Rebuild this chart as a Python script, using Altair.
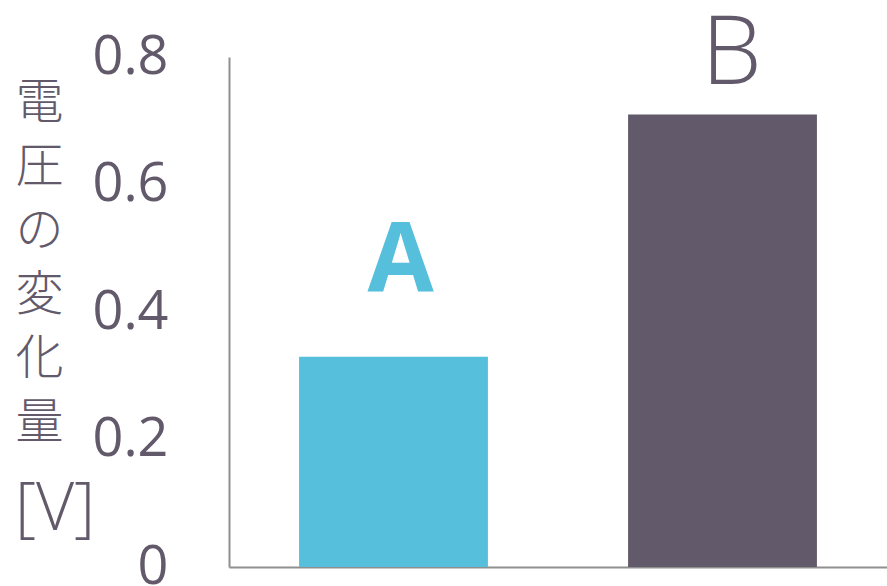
import altair as alt
import pandas as pd

categories = ["A", "B"]
values = [0.33, 0.71]
colors = ["#56bfdc", "#625a6a"]
y_ticks = [0, 0.2, 0.4, 0.6, 0.8]
title_lines = ["電", "圧", "の", "変", "化", "量"]
unit_label = "[V]"

df = pd.DataFrame({"cat": categories, "val": values})

FONT = "Open Sans"
LABEL_COLOR = "#625a6a"
AXIS_COLOR = "#8f8f8f"

x_enc = alt.X("cat:N", sort=categories,
              scale=alt.Scale(paddingInner=0.426, paddingOuter=0.213),
              axis=alt.Axis(title=None, labels=False, ticks=False, domain=True,
                            domainColor=AXIS_COLOR, domainWidth=2, grid=False))
y_enc = alt.Y("val:Q", scale=alt.Scale(domain=[0, 0.8], nice=False),
              axis=alt.Axis(values=y_ticks, format="~g", ticks=False, grid=False,
                            domainColor=AXIS_COLOR, domainWidth=2,
                            labelFont=FONT, labelFontSize=54, labelColor=LABEL_COLOR,
                            labelPadding=61, labelBaseline="middle", labelFlush=False,
                            labelOverlap=False,
                            title=title_lines, titleAngle=0, titleFont="Noto Sans CJK JP",
                            titleFontWeight=300, titleFontSize=48, titleColor="#625a6a",
                            titleLineHeight=64, titleAlign="center", titleBaseline="middle",
                            titleX=-190, titleY=46))

base = alt.Chart(df)

bars = base.mark_bar().encode(
    x=x_enc, y=y_enc,
    color=alt.Color("cat:N", scale=alt.Scale(domain=categories, range=colors), legend=None),
)

label_a = base.transform_filter(alt.datum.cat == "A").mark_text(
    font=FONT, fontSize=96, fontWeight="bold", baseline="alphabetic", dy=-65, dx=7,
    color=colors[0]
).encode(x=alt.X("cat:N", sort=categories), y="val:Q", text="cat:N")

label_b = base.transform_filter(alt.datum.cat == "B").mark_text(
    font=FONT, fontSize=96, fontWeight=300, baseline="alphabetic", dy=-30, dx=9,
    color=colors[1]
).encode(x=alt.X("cat:N", sort=categories), y="val:Q", text="cat:N")

unit = alt.Chart(pd.DataFrame({"t": [unit_label]})).mark_text(
    font=FONT, fontSize=66, fontWeight=300, color="#625a6a", baseline="middle", align="center"
).encode(x=alt.value(-174), y=alt.value(453), text="t:N")

chart = alt.layer(bars, label_a, label_b, unit).properties(
    width=658, height=510,
    padding={"left": 229, "top": 57, "right": 0, "bottom": 19},
    autosize=alt.AutoSizeParams(type="none"),
    background="white",
).configure_view(strokeWidth=0)

chart.save("out.html", embed_options={"renderer": "svg", "actions": False})
